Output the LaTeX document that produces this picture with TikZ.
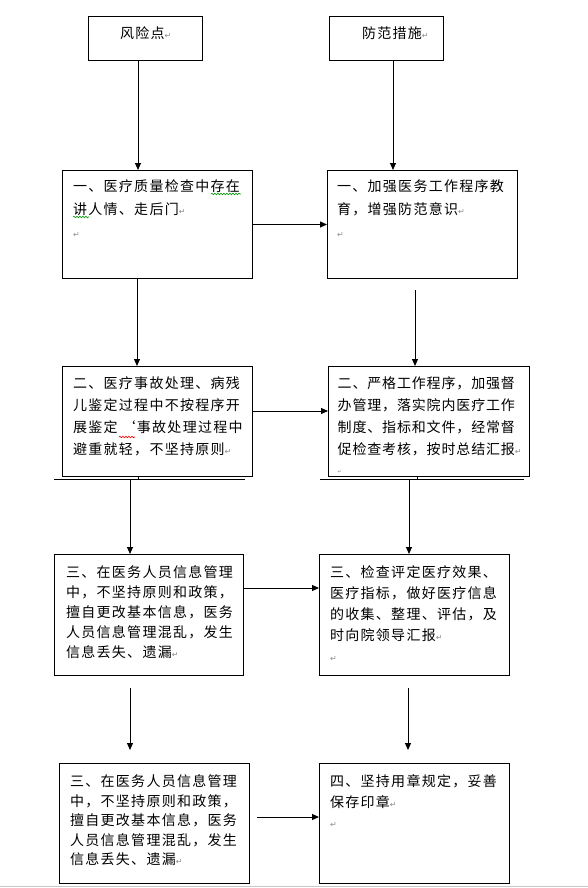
\documentclass[tikz,border=0pt]{standalone}
\usepackage{fontspec}
\newfontfamily\cjk[LetterSpace=9]{Noto Sans CJK SC}
\newfontfamily\dejavu{DejaVu Sans}
\usetikzlibrary{arrows.meta,decorations.pathmorphing}
\newcommand\pmark{{\dejavu\fontsize{8}{8}\selectfont\textcolor{black!45}{↵}}}
\tikzset{
  box/.style={draw, line width=1pt, inner sep=0pt, anchor=north west},
  txt/.style={inner sep=0pt, anchor=north west, align=left},
  arr/.style={line width=1pt, -{Triangle[length=7pt,width=6pt]}},
  plain/.style={line width=1pt},
  wavyg/.style={draw=green!60!black, line width=0.6pt, decorate, decoration={snake, amplitude=0.8pt, segment length=3pt}},
  wavyr/.style={draw=red, line width=0.6pt, decorate, decoration={snake, amplitude=0.8pt, segment length=3pt}}
}
\begin{document}
\begin{tikzpicture}[x=1pt,y=-1pt]
\useasboundingbox (0,0) rectangle (588,888);
\fill[white] (0,0) rectangle (588,888);

% boxes
\node[box, minimum width=114, minimum height=44] (T1) at (88,16) {};
\node[box, minimum width=114, minimum height=44] (T2) at (329,16) {};
\node[box, minimum width=190, minimum height=108] (L1) at (62,170) {};
\node[box, minimum width=190, minimum height=108] (R1) at (327,170) {};
\node[box, minimum width=190, minimum height=110] (L2) at (62,366) {};
\node[box, minimum width=201, minimum height=110] (R2) at (328,366) {};
\node[box, minimum width=189, minimum height=121] (L3) at (54,554) {};
\node[box, minimum width=190, minimum height=121] (R3) at (319,554) {};
\node[box, minimum width=190, minimum height=120] (L4) at (59,763) {};
\node[box, minimum width=190, minimum height=120] (R4) at (319,763) {};

% texts
\node[inner sep=0pt, anchor=west, font=\cjk\fontsize{14}{14}\selectfont] (T1t) at (120,33) {风险点\pmark};
\node[inner sep=0pt, anchor=west, font=\cjk\fontsize{14}{14}\selectfont] (T2t) at (362,33) {防范措施\pmark};

\node[txt, font=\cjk\fontsize{14}{23}\selectfont] (L1t) at (73,179.5)
  {一、医疗质量检查中存在\\讲人情、走后门\pmark\\\pmark};
\node[txt, font=\cjk\fontsize{14}{23}\selectfont] (R1t) at (337,179.5)
  {一、加强医务工作程序教\\育，增强防范意识\pmark\\\pmark};
\node[txt, font=\cjk\fontsize{14}{22}\selectfont] (L2t) at (73,376.5)
  {二、医疗事故处理、病残\\儿鉴定过程中不按程序开\\展鉴定\hspace{4pt}‘事故处理过程中\\避重就轻，不坚持原则\pmark};
\node[txt, font=\cjk\addfontfeature{LetterSpace=6}\fontsize{14}{22}\selectfont] (R2t) at (337.5,376.5)
  {二、严格工作程序，加强督\\办管理，落实院内医疗工作\\制度、指标和文件，经常督\\促检查考核，按时总结汇报\pmark\\[-3pt]{\dejavu\fontsize{5}{5}\selectfont\textcolor{black!45}{↵}}};
\node[txt, font=\cjk\fontsize{14}{20}\selectfont] (L3t) at (66,565.5)
  {三、在医务人员信息管理\\中，不坚持原则和政策，\\擅自更改基本信息，医务\\人员信息管理混乱，发生\\信息丢失、遗漏\pmark};
\node[txt, font=\cjk\fontsize{14}{21}\selectfont] (R3t) at (330,565.5)
  {三、检查评定医疗效果、\\医疗指标，做好医疗信息\\的收集、整理、评估，及\\时向院领导汇报\pmark\\\pmark};
\node[txt, font=\cjk\fontsize{14}{19.5}\selectfont] (L4t) at (70,774.5)
  {三、在医务人员信息管理\\中，不坚持原则和政策，\\擅自更改基本信息，医务\\人员信息管理混乱，发生\\信息丢失、遗漏\pmark};
\node[txt, font=\cjk\fontsize{14}{20.5}\selectfont] (R4t) at (330,774.5)
  {四、坚持用章规定，妥善\\保存印章\pmark\\\pmark};

% spell-check underlines
\draw[wavyg] (211,194) -- (241,194);
\draw[wavyg] (73,217) -- (89,217);
\draw[wavyr] (119,437) -- (135,437);

% helper coordinates
\coordinate (c1) at (138,0);
\coordinate (c2) at (393,0);
\coordinate (c3) at (137,0);
\coordinate (r1s) at (415,290);
\coordinate (h2) at (0,411);
\coordinate (s3) at (130,479);
\coordinate (s4) at (409,479);
\coordinate (h3) at (0,588);
\coordinate (s5) at (130,688);
\coordinate (e5) at (130,750);
\coordinate (s6) at (408,688);
\coordinate (e6) at (408,750);
\coordinate (s7) at (257,817);

% connectors
\draw[arr] (T1.south -| c1) -- (L1.north -| c1);
\draw[arr] (T2.south -| c2) -- (R1.north -| c2);
\draw[arr] (L1.east) -- (R1.west);
\draw[arr] (L1.south -| c3) -- (L2.north -| c3);
\draw[arr] (r1s) -- (R2.north -| r1s);
\draw[arr] (L2.east |- h2) -- (R2.west |- h2);
\draw[arr] (s3) -- (L3.north -| s3);
\draw[arr] (s4) -- (R3.north -| s4);
\draw[arr] (L3.east |- h3) -- (R3.west |- h3);
\draw[arr] (s5) -- (e5);
\draw[arr] (s6) -- (e6);
\draw[arr] (s7) -- (R4.west |- s7);

% lines under second row
\draw[plain] (54,479) -- (245,479);
\draw[plain] (320,479) -- (524,479);
\draw[plain] (138,476) -- (138,479);
\draw[plain] (417,476) -- (417,479);

% page edge
\draw[black!22, line width=1pt] (0,886) -- (588,886);
\end{tikzpicture}
\end{document}
